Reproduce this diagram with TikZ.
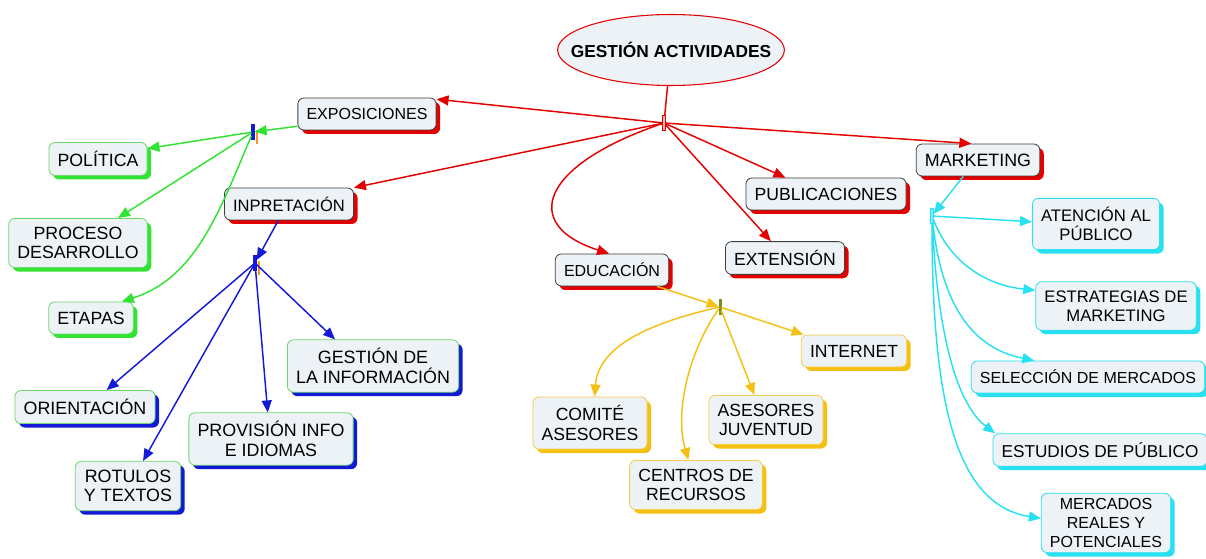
\documentclass[tikz,border=0pt]{standalone}
\usepackage{fontspec}
\setmainfont{Liberation Sans}
\usetikzlibrary{shapes.geometric}
\usetikzlibrary{shadows}
\usetikzlibrary{arrows.meta}
\usetikzlibrary{calc}
\usepackage{xcolor}

\definecolor{boxfill}{RGB}{236,242,246}
\definecolor{actred}{RGB}{228,0,0}
\definecolor{actgreen}{RGB}{50,228,50}
\definecolor{lightgreen}{RGB}{110,215,110}
\definecolor{actblue}{RGB}{20,25,215}
\definecolor{actyellow}{RGB}{245,192,20}
\definecolor{lightyellow}{RGB}{245,205,70}
\definecolor{actcyan}{RGB}{40,225,240}
\definecolor{hubpink}{RGB}{238,190,190}
\definecolor{hubolive}{RGB}{120,150,20}
\definecolor{hubor}{RGB}{245,150,40}

\tikzset{
  concept/.style={rectangle, rounded corners=4.5pt, fill=boxfill, line width=0.6pt,
    font=\fontsize{12}{14}\selectfont, align=center, inner xsep=6.5pt, inner ysep=6.5pt,
    minimum height=24pt},
  fsize/.style={font=\fontsize{#1}{14.5}\selectfont},
  redbox/.style={concept, draw={black!75}, general shadow={fill=actred, shadow xshift=3pt, shadow yshift=-3pt}},
  greenbox/.style={concept, fsize=13.3, draw=lightgreen, general shadow={fill=actgreen, shadow xshift=3pt, shadow yshift=-3pt}},
  bluebox/.style={concept, fsize=13.4, draw=lightgreen, general shadow={fill=actblue, shadow xshift=3pt, shadow yshift=-3pt}},
  yellowbox/.style={concept, fsize=13.2, draw=lightyellow, general shadow={fill=actyellow, shadow xshift=3pt, shadow yshift=-3pt}},
  cyanbox/.style={concept, fsize=12.5, draw=actcyan, general shadow={fill=actcyan, shadow xshift=3pt, shadow yshift=-3pt}},
  hubbar/.style={rectangle, inner sep=0pt, minimum width=2pt, minimum height=11pt, line width=0.5pt},
  link/.style={line width=1.1pt, -{Triangle[length=9pt,width=7.5pt]}},
  redlink/.style={link, actred},
  greenlink/.style={link, actgreen},
  bluelink/.style={link, actblue},
  yellowlink/.style={link, actyellow},
  cyanlink/.style={link, actcyan}
}

\begin{document}
\begin{tikzpicture}[x=0.75pt,y=0.75pt,yscale=-1,xscale=1]
\useasboundingbox (0,0) rectangle (1206,559);

% Root
\node [ellipse, draw=actred, fill=boxfill, line width=0.8pt, inner xsep=-15pt, inner ysep=13pt,
  font=\fontsize{13}{15}\bfseries] (gestion) at (671,50) {GESTIÓN ACTIVIDADES};

% Hubs
\node [hubbar, draw=actred, fill=hubpink] (hubact) at (664,123) {};
\node [hubbar, draw=actblue, fill=actblue] (hubexp) at (253,132) {};
\draw [hubor, line width=1.2pt] ($(hubexp)+(4,-2)$) -- ++(0,14);
\node [hubbar, draw=actblue, fill=actblue] (hubint) at (255,263) {};
\draw [hubor, line width=1.2pt] ($(hubint)+(4,-2)$) -- ++(0,14);
\node [hubbar, draw=hubolive, fill=hubolive, minimum width=1.5pt] (hubedu) at (720,307) {};
\node [hubbar, draw=actcyan, fill=actcyan!60] (hubmkt) at (932,216) {};

% Text Node
\node [redbox] (expo) at (367,114) {EXPOSICIONES};
\node [redbox, fsize=12.4] (interp) at (289,204) {INPRETACIÓN};
\node [redbox] (educ) at (612,270) {EDUCACIÓN};
\node [redbox, fsize=13.2] (ext) at (785,258) {EXTENSIÓN};
\node [redbox, fsize=13.2] (pub) at (826,194) {PUBLICACIONES};
\node [redbox, fsize=13.4] (mkt) at (978,160) {MARKETING};
% Text Node
\node [greenbox] (pol) at (98,159) {POLÍTICA};
\node [greenbox] (proc) at (78,243) {PROCESO\\DESARROLLO};
\node [greenbox] (etapas) at (91,318) {ETAPAS};
% Text Node
\node [bluebox] (orient) at (85,407) {ORIENTACIÓN};
\node [bluebox] (rotulos) at (128,486) {ROTULOS\\Y TEXTOS};
\node [bluebox] (provis) at (271,439) {PROVISIÓN INFO\\E IDIOMAS};
\node [bluebox] (ginfo) at (373,366) {GESTIÓN DE\\LA INFORMACIÓN};
% Text Node
\node [yellowbox] (internet) at (854,351) {INTERNET};
\node [yellowbox] (comite) at (590,423) {COMITÉ\\ASESORES};
\node [yellowbox] (centros) at (696,485) {CENTROS DE\\RECURSOS};
\node [yellowbox] (asesores) at (766,420) {ASESORES\\JUVENTUD};
% Text Node
\node [cyanbox] (atencion) at (1096,224) {ATENCIÓN AL\\PÚBLICO};
\node [cyanbox] (estrat) at (1116,306) {ESTRATEGIAS DE\\MARKETING};
\node [cyanbox, fsize=12] (selecc) at (1088,377) {SELECCIÓN DE MERCADOS};
\node [cyanbox, fsize=12.9] (estud) at (1100,450) {ESTUDIOS DE PÚBLICO};
\node [cyanbox, fsize=12, inner ysep=3.5pt] (mercados) at (1106,523) {MERCADOS\\REALES Y\\POTENCIALES};

%Straight Lines
\draw [actred, line width=1.1pt] (gestion) -- (hubact);
\draw [redlink] (hubact) -- (expo.12);
\draw [redlink] (hubact) -- (interp.north east);
\draw [redlink] (hubact) .. controls (540,165) and (520,225) .. (educ.100);
\draw [redlink] (hubact) -- (pub.158);
\draw [redlink] (hubact) -- (ext.130);
\draw [redlink] (hubact) -- (mkt.112);
%Straight Lines
\draw [greenlink] (expo.190) -- (hubexp);
\draw [greenlink] (hubexp) -- (pol.12);
\draw [greenlink] (hubexp) -- (proc.32);
\draw [greenlink] (hubexp) .. controls (218,215) and (195,278) .. (etapas.28);
%Straight Lines
\draw [bluelink] (interp.237) -- (hubint);
\draw [bluelink] (hubint) -- (orient.38);
\draw [bluelink] (hubint) -- (rotulos.59);
\draw [bluelink] (hubint) -- (provis.97);
\draw [bluelink] (hubint) -- (ginfo.145);
%Curve Lines
\draw [yellowlink] (educ.340) -- (hubedu);
\draw [yellowlink] (hubedu) -- (internet.162);
\draw [yellowlink] (hubedu) .. controls (640,325) and (598,350) .. (comite.80);
\draw [yellowlink] (hubedu) .. controls (690,350) and (674,410) .. (centros.107);
\draw [yellowlink] (hubedu) -- (asesores.115);
%Curve Lines
\draw [cyanlink] (mkt.228) -- (hubmkt);
\draw [cyanlink] (hubmkt) -- (atencion.178);
\draw [cyanlink] (hubmkt) .. controls (950,262) and (985,285) .. (estrat.169);
\draw [cyanlink] (hubmkt) .. controls (942,305) and (972,348) .. (selecc.163);
\draw [cyanlink] (hubmkt) .. controls (938,340) and (958,405) .. (estud.171);
\draw [cyanlink] (hubmkt) .. controls (932,410) and (958,505) .. (mercados.176);

\end{tikzpicture}
\end{document}
